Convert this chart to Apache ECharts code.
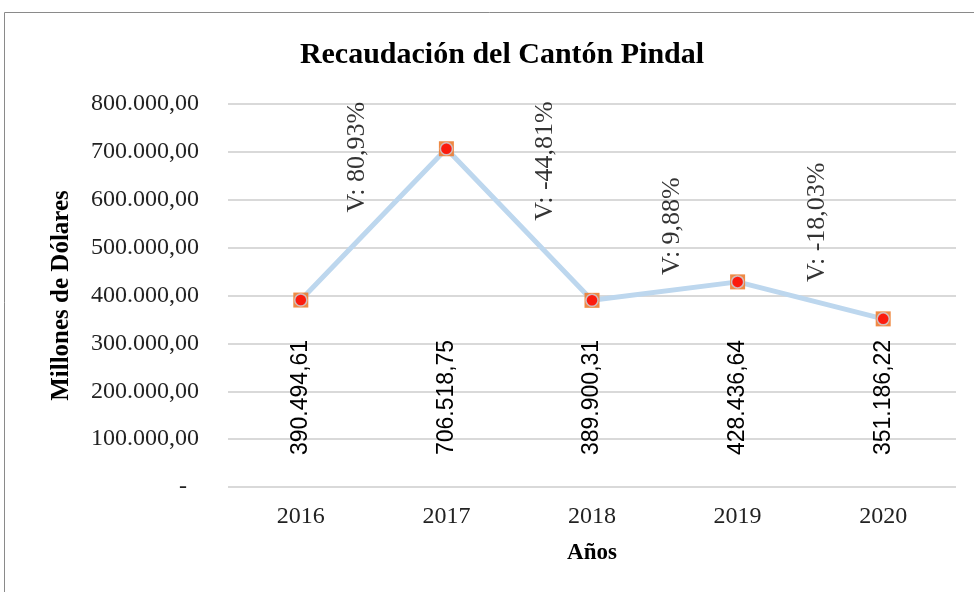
<!DOCTYPE html>
<html>
<head>
<meta charset="utf-8">
<script src="https://cdn.jsdelivr.net/npm/echarts@6/dist/echarts.min.js"></script>
<style>
html,body{margin:0;padding:0;background:#fff;}
#c{width:974px;height:592px;}
</style>
</head>
<body>
<div id="c"></div>
<script>
// ---- data ----
const years = ['2016', '2017', '2018', '2019', '2020'];
const recaudacion = [390494.61, 706518.75, 389900.31, 428436.64, 351186.22];
const variationLabels = ['V: 80,93%', 'V: -44,81%', 'V: 9,88%', 'V: -18,03%'];
const yTicks = [0, 100000, 200000, 300000, 400000, 500000, 600000, 700000, 800000];

// label anchors for variation notes (category index, value) — placement only
const varAnchorX = [0.39, 1.68, 2.55, 3.545];
const varAnchorY = [689000, 681000, 545000, 553000];

function fmtEs(v, dec) {
  const parts = v.toFixed(dec).split('.');
  const intp = parts[0].replace(/\B(?=(\d{3})+(?!\d))/g, '.');
  return dec ? intp + ',' + parts[1] : intp;
}

const serif = '"Liberation Serif", "Times New Roman", serif';
const sans = '"Liberation Sans", Arial, sans-serif';

const chart = echarts.init(document.getElementById('c'), null, {renderer: 'canvas'});
chart.setOption({
  backgroundColor: '#fff',
  animation: false,
  title: {
    text: 'Recaudación del Cantón Pindal',
    left: 497, top: 35, textAlign: 'center',
    textStyle: {fontFamily: serif, fontWeight: 'bold', fontSize: 30, color: '#000'}
  },
  graphic: [{
    type: 'rect', silent: true,
    shape: {x: 4.5, y: 12.5, width: 1000, height: 620},
    style: {fill: 'none', stroke: '#8a8a8a', lineWidth: 1}
  }],
  grid: {left: 228, right: 18, top: 104, bottom: 105},
  xAxis: [{
    type: 'category', data: years,
    axisLine: {show: false}, axisTick: {show: false},
    axisLabel: {fontFamily: serif, fontSize: 24, color: '#222', margin: 18},
    name: 'Años', nameLocation: 'middle', nameGap: 55,
    nameTextStyle: {fontFamily: serif, fontWeight: 'bold', fontSize: 23, color: '#000'}
  }, {
    type: 'value', min: -0.5, max: 4.5, show: false
  }],
  yAxis: {
    type: 'value', min: 0, max: 800000, interval: 100000,
    axisLine: {show: false}, axisTick: {show: false},
    splitLine: {lineStyle: {color: '#d9d9d9', width: 2}},
    axisLabel: {
      fontFamily: serif, fontSize: 24, color: '#222', margin: 29,
      formatter: v => v === 0 ? '-  ' : fmtEs(v, 2)
    },
    name: 'Millones de Dólares', nameLocation: 'middle', nameGap: 154,
    nameTextStyle: {fontFamily: serif, fontWeight: 'bold', fontSize: 25, color: '#000'}
  },
  series: [
    {
      type: 'bar', data: recaudacion, barWidth: 10, silent: true,
      itemStyle: {color: 'rgba(0,0,0,0)'},
      label: {
        show: true, position: 'insideBottom', distance: 32, rotate: 90,
        align: 'left', verticalAlign: 'middle',
        fontFamily: sans, fontSize: 23, color: '#000',
        formatter: p => fmtEs(p.value, 2)
      },
      z: 1
    },
    {
      type: 'line', data: recaudacion, symbol: 'none',
      lineStyle: {color: '#BDD7EE', width: 5}, z: 2
    },
    {
      type: 'scatter', data: recaudacion, symbol: 'rect', symbolSize: 15,
      itemStyle: {color: '#ED7D31', opacity: 0.9}, z: 3
    },
    {
      type: 'scatter', data: recaudacion, symbol: 'circle', symbolSize: 12,
      itemStyle: {color: '#FF0000', borderColor: '#C9D4E2', borderWidth: 1.5}, z: 4
    },
    {
      type: 'scatter', xAxisIndex: 1, symbolSize: 0, silent: true,
      data: variationLabels.map((t, i) => ({value: [varAnchorX[i], varAnchorY[i]], name: t})),
      label: {
        show: true, position: 'inside', rotate: 90,
        fontFamily: serif, fontSize: 26, color: '#000',
        formatter: p => p.name
      },
      z: 5
    }
  ]
});
</script>
</body>
</html>
